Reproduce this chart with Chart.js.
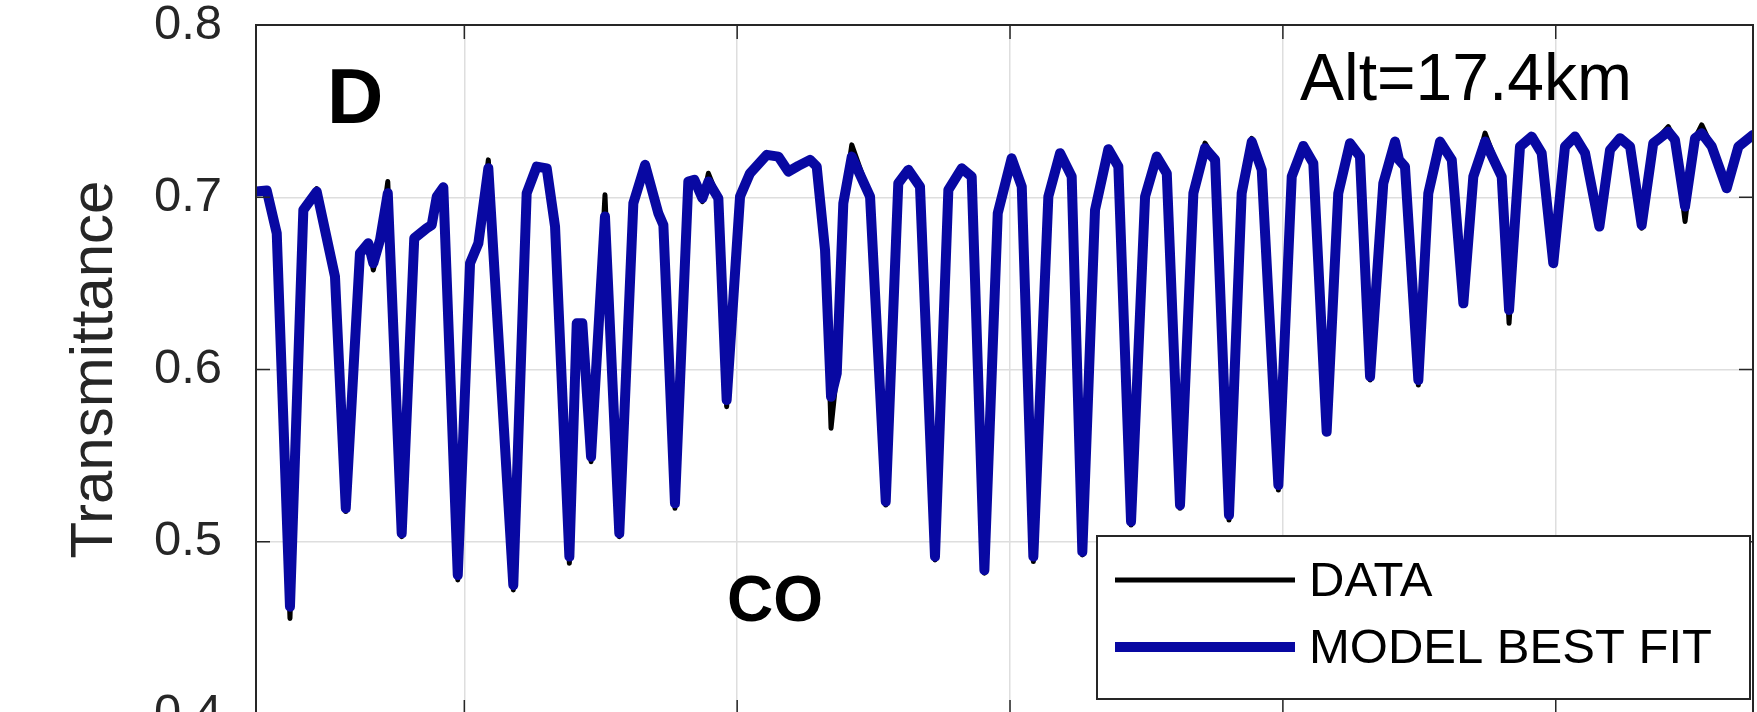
<!DOCTYPE html>
<html>
<head>
<meta charset="utf-8">
<script src="https://cdn.jsdelivr.net/npm/chart.js@4.4.1/dist/chart.umd.min.js"></script>
<style>
  html, body { margin: 0; padding: 0; background: #fff; overflow: hidden; }
  #wrap { width: 1757px; height: 712px; overflow: hidden; position: relative; }
  canvas { display: block; }
</style>
</head>
<body>
<div id="wrap"><canvas id="chart" width="1757" height="790"></canvas></div>
<script>
// Wavenumber (cm-1), one entry per vertex of the curves
const wavenumber = [
  2084.73, 2085.52, 2086.25, 2087.22, 2088.20, 2089.18, 2090.52, 2091.31, 2092.35, 2092.96,
  2093.33, 2093.82, 2094.39, 2095.41, 2096.33, 2097.24, 2097.61, 2097.98, 2098.46, 2099.52,
  2100.42, 2101.03, 2101.76, 2103.59, 2104.57, 2105.31, 2106.04, 2106.65, 2107.70, 2108.24,
  2108.65, 2109.29, 2110.31, 2111.36, 2112.39, 2113.25, 2114.22, 2114.59, 2115.44, 2116.42,
  2116.86, 2117.45, 2117.89, 2118.62, 2119.23, 2120.21, 2120.94, 2122.17, 2123.02, 2123.75,
  2124.48, 2125.34, 2125.83, 2126.44, 2126.88, 2127.30, 2127.78, 2128.40, 2129.74, 2130.89,
  2131.81, 2132.55, 2133.40, 2134.50, 2135.48, 2136.46, 2137.19, 2138.12, 2139.10, 2140.12,
  2140.86, 2141.71, 2142.81, 2143.67, 2144.52, 2145.30, 2146.23, 2147.21, 2147.94, 2148.87,
  2149.90, 2150.75, 2151.49, 2152.46, 2153.44, 2154.29, 2155.03, 2156.05, 2156.98, 2157.72,
  2158.45, 2159.67, 2160.65, 2161.50, 2162.23, 2163.21, 2164.06, 2164.92, 2165.65, 2166.39,
  2167.36, 2168.22, 2168.51, 2168.95, 2169.93, 2170.66, 2171.52, 2172.38, 2173.23, 2173.96,
  2174.82, 2176.04, 2176.58, 2177.38, 2178.24, 2178.97, 2179.82, 2180.68, 2181.41, 2182.15,
  2183.20, 2183.98, 2184.71, 2185.45, 2186.30, 2187.15, 2188.25, 2188.74, 2189.48, 2190.21,
  2190.70, 2191.44, 2192.53, 2193.39, 2194.46
]

const modelFit = [
  0.7033, 0.7039, 0.6791, 0.4623, 0.6926, 0.7033, 0.6539, 0.5194, 0.6675, 0.6733,
  0.6617, 0.6752, 0.7023, 0.5049, 0.6762, 0.6820, 0.6839, 0.7004, 0.7058, 0.4807,
  0.6617, 0.6733, 0.7168, 0.4749, 0.7023, 0.7178, 0.7168, 0.6830, 0.4914, 0.6268,
  0.6268, 0.5494, 0.6888, 0.5049, 0.6965, 0.7188, 0.6907, 0.6839, 0.5223, 0.7091,
  0.7101, 0.6994, 0.7091, 0.6994, 0.5823, 0.7004, 0.7139, 0.7246, 0.7236, 0.7149,
  0.7182, 0.7217, 0.7178, 0.6694, 0.5842, 0.5978, 0.6965, 0.7236, 0.7004, 0.5233,
  0.7081, 0.7159, 0.7062, 0.4914, 0.7043, 0.7168, 0.7120, 0.4836, 0.6907, 0.7226,
  0.7062, 0.4914, 0.7004, 0.7256, 0.7120, 0.4942, 0.6926, 0.7279, 0.7178, 0.5117,
  0.7004, 0.7236, 0.7139, 0.5213, 0.7023, 0.7285, 0.7217, 0.5155, 0.7023, 0.7323,
  0.7159, 0.5329, 0.7120, 0.7298, 0.7197, 0.5639, 0.7023, 0.7314, 0.7236, 0.5959,
  0.7081, 0.7323, 0.7217, 0.7178, 0.5939, 0.7023, 0.7323, 0.7217, 0.6384, 0.7120,
  0.7323, 0.7120, 0.6346, 0.7294, 0.7352, 0.7256, 0.6617, 0.7294, 0.7352, 0.7256,
  0.6830, 0.7275, 0.7343, 0.7294, 0.6839, 0.7314, 0.7381, 0.7333, 0.6946, 0.7343,
  0.7372, 0.7294, 0.7052, 0.7294, 0.7362
]

const measured = [
  0.7033, 0.7039, 0.6791, 0.4555, 0.6926, 0.7050, 0.6539, 0.5175, 0.6675, 0.6733,
  0.6578, 0.6752, 0.7091, 0.5029, 0.6762, 0.6820, 0.6839, 0.7004, 0.7058, 0.4778,
  0.6617, 0.6733, 0.7217, 0.4720, 0.7023, 0.7178, 0.7168, 0.6830, 0.4875, 0.6268,
  0.6268, 0.5465, 0.7014, 0.5029, 0.6965, 0.7188, 0.6907, 0.6839, 0.5194, 0.7091,
  0.7101, 0.6975, 0.7139, 0.6994, 0.5784, 0.7004, 0.7139, 0.7246, 0.7236, 0.7149,
  0.7182, 0.7217, 0.7178, 0.6694, 0.5659, 0.5978, 0.6965, 0.7304, 0.7004, 0.5213,
  0.7081, 0.7159, 0.7062, 0.4894, 0.7043, 0.7168, 0.7120, 0.4817, 0.6907, 0.7226,
  0.7062, 0.4885, 0.7004, 0.7256, 0.7120, 0.4923, 0.6926, 0.7279, 0.7178, 0.5097,
  0.7004, 0.7236, 0.7139, 0.5194, 0.7023, 0.7314, 0.7217, 0.5126, 0.7023, 0.7342,
  0.7159, 0.5300, 0.7120, 0.7298, 0.7197, 0.5639, 0.7023, 0.7314, 0.7236, 0.5939,
  0.7081, 0.7323, 0.7217, 0.7178, 0.5910, 0.7023, 0.7323, 0.7217, 0.6374, 0.7120,
  0.7372, 0.7120, 0.6268, 0.7294, 0.7352, 0.7256, 0.6617, 0.7294, 0.7352, 0.7256,
  0.6830, 0.7275, 0.7343, 0.7294, 0.6820, 0.7314, 0.7410, 0.7333, 0.6859, 0.7343,
  0.7420, 0.7294, 0.7052, 0.7294, 0.7362
]

const xTicks = [2100, 2120, 2140, 2160, 2180]
const yTicks = [0.4, 0.5, 0.6, 0.7, 0.8]
const seriesLabels = ["DATA", "MODEL BEST FIT"]

const FONT = "'Liberation Sans', Arial, Helvetica, sans-serif"
const AXIS_COLOR = "#262626"
const BLUE = "rgb(8, 8, 162)"

function toPoints(ys) {
  return wavenumber.map((x, i) => ({ x: x, y: ys[i] }))
}

// box, inward tick marks, text notes and the legend (MATLAB look)
const matlabFrame = {
  id: "matlabFrame",
  afterDraw(chart) {
    const { ctx, chartArea: a, scales } = chart
    const seg = (x1, y1, x2, y2) => {
      ctx.beginPath()
      ctx.moveTo(x1, y1)
      ctx.lineTo(x2, y2)
      ctx.stroke()
    }
    ctx.save()
    ctx.strokeStyle = AXIS_COLOR
    ctx.lineWidth = 1.5
    const len = 14
    scales.y.ticks.forEach((t) => {
      const py = scales.y.getPixelForValue(t.value)
      seg(a.left, py, a.left + len, py)
      seg(a.right, py, a.right - len, py)
    })
    scales.x.ticks.forEach((t) => {
      const px = scales.x.getPixelForValue(t.value)
      seg(px, a.top, px, a.top + len)
      seg(px, a.bottom, px, a.bottom - len)
    })
    ctx.lineWidth = 2
    ctx.strokeRect(a.left, a.top, a.right - a.left, a.bottom - a.top)

    // text notes
    ctx.fillStyle = "#000"
    ctx.textBaseline = "alphabetic"
    ctx.textAlign = "left"
    ctx.font = "bold 78px " + FONT
    ctx.fillText("D", a.left + 71, 123)
    ctx.font = "66px " + FONT
    ctx.fillText("Alt=17.4km", a.left + 1044, 100)
    ctx.font = "bold 64px " + FONT
    ctx.fillText("CO", a.left + 471, 621)

    // legend
    const lx = 1097, ly = 536, lw = 653, lh = 163
    ctx.fillStyle = "#fff"
    ctx.fillRect(lx, ly, lw, lh)
    ctx.strokeStyle = AXIS_COLOR
    ctx.lineWidth = 2
    ctx.strokeRect(lx, ly, lw, lh)
    const rows = [580, 647]
    chart.data.datasets.forEach((ds, i) => {
      ctx.strokeStyle = ds.borderColor
      ctx.lineWidth = ds.borderWidth
      ctx.lineCap = "butt"
      seg(lx + 18, rows[i], lx + 198, rows[i])
      ctx.fillStyle = "#000"
      ctx.font = "49px " + FONT
      ctx.textBaseline = "middle"
      ctx.fillText(ds.label, lx + 212, rows[i] + 2)
    })
    ctx.restore()
  },
}

new Chart(document.getElementById("chart"), {
  type: "line",
  data: {
    datasets: [
      {
        label: seriesLabels[0],
        data: toPoints(measured),
        borderColor: "#000",
        borderWidth: 5,
        order: 2,
      },
      {
        label: seriesLabels[1],
        data: toPoints(modelFit),
        borderColor: BLUE,
        borderWidth: 10,
        order: 1,
      },
    ],
  },
  options: {
    responsive: false,
    animation: false,
    events: [],
    layout: { padding: { left: 0, top: 25, right: 4, bottom: 76 } },
    elements: {
      point: { radius: 0 },
      line: { tension: 0, borderJoinStyle: "round", borderCapStyle: "round", fill: false },
    },
    plugins: {
      legend: { display: false },
      tooltip: { enabled: false },
    },
    scales: {
      x: {
        type: "linear",
        min: wavenumber[0],
        max: wavenumber[wavenumber.length - 1],
        afterBuildTicks: (scale) => {
          scale.ticks = xTicks.map((v) => ({ value: v }))
        },
        ticks: { display: false },
        grid: { color: "#dedede", lineWidth: 1.5, drawTicks: false },
        border: { display: false },
      },
      y: {
        type: "linear",
        min: yTicks[0],
        max: yTicks[yTicks.length - 1],
        afterBuildTicks: (scale) => {
          scale.ticks = yTicks.map((v) => ({ value: v }))
        },
        afterFit: (scale) => {
          scale.width = 256
        },
        ticks: {
          color: AXIS_COLOR,
          padding: 0,
          font: { family: FONT, size: 49, lineHeight: 1 },
          callback: (v) => Number(v).toFixed(1),
        },
        // the gap between labels and axis comes from an invisible tick mark
        grid: {
          color: "#dedede",
          lineWidth: 1.5,
          drawTicks: true,
          tickLength: 34,
          tickColor: "rgba(0,0,0,0)",
        },
        border: { display: false },
        title: {
          display: true,
          text: "Transmittance",
          color: AXIS_COLOR,
          font: { family: FONT, size: 60, lineHeight: 1.2 },
          padding: { top: 59, bottom: 0 },
        },
      },
    },
  },
  plugins: [matlabFrame],
})
</script>
</body>
</html>
